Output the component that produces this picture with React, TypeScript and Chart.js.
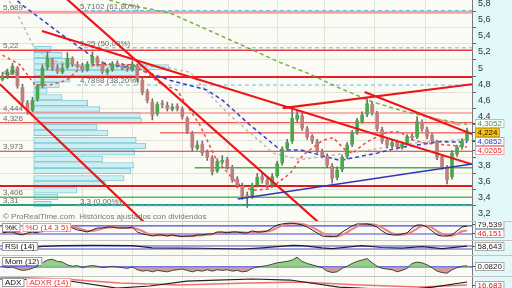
import React, { useEffect, useRef } from "react";
import { Chart, registerables } from "chart.js";

Chart.register(...registerables);

// ---------------- layout / style constants ----------------
const FONT = "'Liberation Sans', Arial, sans-serif";
const W = 512, H = 288, AXIS_W = 40, PLOT_W = W - AXIS_W, MAIN_H = 222;
const X_MIN = -0.5, X_MAX = 94;
const PRICE_MIN = 3.1, PRICE_MAX = 5.84;
const GRID = "#e3e3da";
const BG = "#fbfbf6";
const AXIS_BG = "#e2f8f9";
const UP = "#49a84a";
const DOWN = "#c27f7a";

// ---------------- data ----------------
const opens = [4.86,4.90,4.94,5.00,4.76,4.57,4.48,4.62,4.78,5.01,
  5.10,5.01,4.95,5.01,5.12,5.04,5.03,4.98,5.06,5.13,
  5.05,4.95,4.98,5.06,5.03,5.01,4.98,5.03,4.85,4.71,
  4.58,4.44,4.56,4.54,4.49,4.53,4.49,4.38,4.20,4.01,
  4.06,3.96,3.89,3.73,3.84,3.87,3.77,3.63,3.54,3.43,
  3.41,3.56,3.66,3.61,3.56,3.67,3.83,4.01,4.10,4.37,
  4.41,4.25,4.16,4.09,3.97,3.91,3.79,3.65,3.75,3.91,
  4.06,4.21,4.34,4.43,4.55,4.44,4.24,4.11,4.04,4.09,
  4.02,4.07,4.16,4.15,4.33,4.24,4.17,4.09,3.91,3.77,
  3.66,3.94,4.03,4.11];
const highs = [4.95,4.99,5.06,5.02,4.80,4.60,4.64,4.80,5.04,5.20,
  5.12,5.04,5.05,5.19,5.14,5.08,5.06,5.08,5.20,5.15,
  5.08,5.00,5.08,5.09,5.06,5.04,5.09,5.05,4.88,4.74,
  4.62,4.58,4.60,4.58,4.56,4.56,4.52,4.40,4.22,4.10,
  4.10,3.99,3.92,3.88,3.92,3.90,3.80,3.66,3.58,3.47,
  3.58,3.70,3.70,3.64,3.70,3.85,4.03,4.12,4.50,4.47,
  4.44,4.28,4.18,4.12,4.00,3.94,3.82,3.78,3.93,4.08,
  4.23,4.38,4.46,4.62,4.58,4.47,4.27,4.14,4.12,4.11,
  4.09,4.18,4.19,4.40,4.36,4.27,4.19,4.11,3.93,3.80,
  3.98,4.05,4.13,4.26];
const lows = [4.84,4.87,4.92,4.75,4.55,4.43,4.46,4.59,4.76,4.98,
  4.97,4.93,4.93,4.99,5.02,5.00,4.95,4.96,5.04,5.03,
  4.93,4.92,4.96,5.01,4.98,4.96,4.96,4.83,4.67,4.57,
  4.36,4.41,4.51,4.47,4.47,4.47,4.37,4.19,3.98,3.99,
  3.92,3.86,3.68,3.71,3.81,3.75,3.59,3.52,3.38,3.28,
  3.39,3.53,3.58,3.52,3.53,3.65,3.80,3.98,4.07,4.34,
  4.23,4.12,4.07,3.95,3.89,3.77,3.58,3.62,3.72,3.88,
  4.03,4.18,4.32,4.40,4.42,4.22,4.07,4.01,4.01,4.00,
  4.00,4.05,4.11,4.13,4.22,4.13,4.07,3.87,3.75,3.57,
  3.63,3.91,4.00,4.09];
const closes = [4.90,4.95,5.02,4.78,4.58,4.47,4.60,4.78,5.00,5.12,
  5.00,4.96,5.00,5.12,5.05,5.02,4.98,5.05,5.14,5.06,
  4.96,4.97,5.05,5.04,5.00,4.99,5.05,4.86,4.70,4.60,
  4.42,4.55,4.55,4.50,4.52,4.50,4.40,4.22,4.02,4.05,
  3.95,3.90,3.72,3.85,3.86,3.78,3.62,3.55,3.42,3.40,
  3.55,3.65,3.62,3.55,3.66,3.82,4.00,4.08,4.38,4.42,
  4.26,4.15,4.10,3.98,3.92,3.80,3.64,3.74,3.90,4.05,
  4.20,4.35,4.42,4.56,4.45,4.25,4.10,4.05,4.08,4.03,
  4.06,4.15,4.14,4.34,4.25,4.16,4.10,3.90,3.78,3.62,
  3.95,4.02,4.10,4.224];

// month separators (candle index)
const gridIdx = [16, 26, 36, 45.3, 55, 64.5, 74.5, 84.7];

// moving averages (candle index, price)
const ma200Idx = [20, 23.5, 33.5, 45.5, 55.5, 61, 67.6, 74.2, 79.6, 86.2, 93];
const ma200 = [5.87, 5.80, 5.68, 5.35, 5.07, 4.94, 4.75, 4.58, 4.48, 4.38, 4.3052];
const ma100Idx = [0, 2.5, 4.1, 6.1, 9.5, 15.5, 23.5, 31.5, 37.5, 41.5, 45.5, 54.2, 59.6, 65.6, 73.6, 81.6, 93];
const ma100 = [5.95, 5.72, 5.53, 5.28, 5.10, 5.02, 5.02, 5.02, 4.95, 4.67, 4.42, 3.95, 3.87, 3.92, 3.99, 4.07, 4.12];
const ma50Idx = [1, 3.5, 11.5, 16.9, 19.5, 27.5, 33.5, 40.9, 44.1, 49.5, 55.6, 59.6, 67.6, 75, 79.6, 87.6, 93];
const ma50 = [5.95, 5.80, 5.43, 5.19, 5.07, 4.98, 4.85, 4.73, 4.60, 4.30, 3.99, 3.99, 3.86, 3.95, 4.02, 4.09, 4.0852];
const ma20Idx = [0, 3.5, 6.5, 9.5, 12.9, 15.5, 18.5, 26.1, 28.9, 31.5, 34.9, 39.5, 42.9, 46.9, 50.1, 53.5, 57.6, 60.2, 64.2, 66.2, 68.6, 70, 73, 77, 79.6, 82.2, 85, 89, 93];
const ma20 = [5.16, 5.04, 4.79, 4.79, 4.85, 5.0, 5.04, 5.04, 4.94, 4.81, 4.73, 4.30, 3.86, 3.58, 3.49, 3.51, 3.70, 3.93, 4.11, 4.14, 3.99, 3.95, 4.09, 4.21, 4.21, 4.11, 4.07, 4.05, 4.0265];

// horizontal support / resistance levels
const hlineVals = [5.689, 5.22, 4.89, 4.444, 4.326, 4.2, 3.973, 3.543, 3.77, 3.406, 3.31];
const hlineFrom = [X_MIN, X_MIN, X_MIN, X_MIN, X_MIN, 31.5, X_MIN, X_MIN, 38.5, X_MIN, X_MIN];
const leftLabelVals = [5.689, 5.22, 4.89, 4.444, 4.326, 3.973, 3.406, 3.31];
const leftLabelText = ["5,689", "5,22", "4,89", "4,444", "4,326", "3,973", "3,406", "3,31"];

// Fibonacci retracement
const FIB_FROM = 14.9;
const fibVals = [5.7102, 5.25, 4.7898, 3.3];
const fibLabels = ["5,7102 (61,80%)", "5,25 (50,00%)", "4,7898 (38,20%)", "3,3 (0,00%)"];

// trend lines: [x0, y0, x1, y1] in (candle index, price)
const trendRed = [
  [-0.5, 4.80, 30, 3.0],
  [11.5, 5.927, 65.5, 2.974],
  [7.9, 5.457, 94, 3.812],
  [72.5, 4.704, 94, 4.185],
  [56.1, 4.506, 94, 4.80],
];
const trendThin = [82, 4.457, 91.6, 4.296];
const trendBlue = [47.1, 3.383, 94, 3.815];

// volume by price
const vpPrice = [5.235, 5.16, 5.086, 5.01, 4.94, 4.86, 4.79, 4.72, 4.64, 4.57, 4.49, 4.42, 4.35, 4.27, 4.20, 4.11, 4.04, 3.96, 3.88, 3.80, 3.73, 3.64, 3.57, 3.49, 3.41, 3.32];
const vpVolume = [13, 21, 29, 100, 76, 27, 19, 10, 21, 40, 49, 79, 80, 47, 55, 76, 83, 75, 51, 74, 72, 67, 53, 32, 18, 13];

// stochastic
const stochK = [28,35,35,20,13,28,35,28,57,72,
  72,72,80,80,65,50,43,35,50,65,
  65,72,72,65,65,65,72,35,20,13,
  5,13,13,5,13,5,0,5,5,13,
  13,20,20,35,35,28,35,35,28,28,
  43,35,35,43,65,87,95,100,100,95,
  87,72,50,28,5,0,0,5,35,57,
  80,95,95,95,87,72,43,20,13,13,
  20,28,65,87,87,72,43,13,5,5,
  13,43,72,79.539];
const stochD = [30,32,34,30,22,20,25,31,40,52,
  67,72,75,77,75,65,53,43,42,50,
  60,67,70,70,67,65,67,57,42,23,
  13,10,10,10,10,8,6,3,3,8,
  10,15,18,25,30,33,33,33,32,30,
  33,35,38,38,48,65,82,94,98,98,
  94,85,70,50,28,11,3,2,13,32,
  57,77,90,95,92,85,67,45,25,15,
  15,20,38,60,80,82,67,42,20,8,
  7,20,40,46.151];

// RSI (candle index, value)
const rsiIdx = [0, 4, 8, 12, 18, 26, 30, 40, 48, 52, 58, 60, 64, 66, 72, 76, 80, 84, 88, 93];
const rsi = [48, 42, 58, 62, 64, 62, 48, 45, 40, 48, 64, 62, 47, 42, 62, 50, 46, 56, 42, 58.643];

// momentum
const mom = [0.05,-0.05,0.0,-0.15,-0.25,-0.2,-0.1,0.05,0.3,0.5,
  0.55,0.4,0.35,0.15,0.05,0.1,-0.05,0.05,0.1,0.05,
  -0.05,0.0,0.05,0.0,-0.05,-0.1,0.0,-0.2,-0.3,-0.25,
  -0.35,-0.25,-0.3,-0.35,-0.25,-0.2,-0.15,-0.25,-0.35,-0.25,
  -0.3,-0.2,-0.3,-0.2,-0.25,-0.2,-0.3,-0.25,-0.35,-0.3,
  -0.1,0.0,0.05,0.1,0.2,0.3,0.35,0.4,0.5,0.7,
  0.4,0.25,0.15,0.05,-0.05,-0.3,-0.4,-0.35,-0.1,0.05,
  0.25,0.4,0.5,0.6,0.3,0.05,-0.1,-0.15,-0.2,-0.35,
  -0.25,-0.1,0.25,0.35,0.3,0.15,-0.05,-0.3,-0.4,-0.45,
  -0.2,-0.05,0.05,0.082];

// ADX / ADXR (candle index, value)
const adxIdx = [-0.5, 12.1, 22.9, 29.5, 36.9, 42.9, 50.1, 57.6, 67.4, 79.6, 86.2, 93];
const adx = [32.2, 29.6, 8.9, 14.1, 27, 29.6, 32.2, 29.6, 11.5, 3.7, 11.5, 24.5];
const adxrIdx = [-0.5, 12.1, 23.5, 35.5, 49.5, 59.6, 71.6, 83.6, 93];
const adxr = [37.4, 32.2, 21.9, 16.7, 21.9, 24.5, 16.7, 11.5, 16.683];

// ---------------- helpers ----------------
const pairs = (xs: number[], ys: number[]) => xs.map((x, i) => ({ x, y: ys[i] }));
const seg = (a: number[]) => [{ x: a[0], y: a[1] }, { x: a[2], y: a[3] }];
const lineDs = (data: any[], color: string, width: number, dash: number[], order: number, extra: any = {}) => ({
  type: "line", data, borderColor: color, borderWidth: width, borderDash: dash,
  pointRadius: 0, tension: 0, fill: false, order, ...extra,
});
const comma = (v: number, d: number) => v.toFixed(d).replace(".", ",");

const xScale = () => ({
  type: "linear", min: X_MIN, max: X_MAX, offset: false,
  grid: { color: GRID, drawTicks: false, offset: false },
  border: { display: false },
  ticks: { display: false },
  afterBuildTicks: (s: any) => { s.ticks = gridIdx.map((v) => ({ value: v })); },
});

function drawTags(ctx: CanvasRenderingContext2D, yScale: any, x0: number, tags: any[]) {
  const TH = 9;
  const items = tags.map((t) => ({ ...t, py: yScale.getPixelForValue(t.value) }));
  items.sort((a, b) => a.py - b.py);
  for (let k = 0; k < 6; k++) {
    for (let i = 1; i < items.length; i++) {
      const gap = items[i].py - items[i - 1].py;
      if (gap < TH) { const d = (TH - gap) / 2; items[i - 1].py -= d; items[i].py += d; }
    }
  }
  ctx.font = `8px ${FONT}`;
  ctx.textBaseline = "middle";
  ctx.textAlign = "left";
  items.forEach((t) => {
    const w = ctx.measureText(t.text).width + 5;
    const y = Math.round(t.py);
    ctx.strokeStyle = "#555"; ctx.lineWidth = 1;
    ctx.beginPath(); ctx.moveTo(x0, y + 0.5); ctx.lineTo(x0 + 3, y + 0.5); ctx.stroke();
    ctx.fillStyle = t.bg || "#ffffff";
    ctx.fillRect(x0 + 3, y - 4, w, 9);
    ctx.strokeStyle = t.border || "#aaaaaa";
    ctx.strokeRect(x0 + 3.5, y - 3.5, w - 1, 8);
    ctx.fillStyle = t.color;
    ctx.fillText(t.text, x0 + 5.5, y + 1);
  });
}

function drawLabelBoxes(ctx: CanvasRenderingContext2D, x: number, y: number, labels: any[]) {
  ctx.font = `8px ${FONT}`;
  ctx.textBaseline = "middle";
  ctx.textAlign = "left";
  let cx = x;
  labels.forEach((l) => {
    const w = ctx.measureText(l.text).width + 6;
    ctx.fillStyle = "#ffffff";
    ctx.fillRect(cx, y, w, 9);
    ctx.strokeStyle = l.border; ctx.lineWidth = 1;
    ctx.strokeRect(cx + 0.5, y + 0.5, w - 1, 8);
    ctx.fillStyle = l.color;
    ctx.fillText(l.text, cx + 3, y + 5);
    cx += w + 2;
  });
}

// ---------------- main price chart ----------------
const hlineStyle = [
  { c: "#f3a3a3", w: 3 }, { c: "#f03a3a", w: 1.5 }, { c: "#ee1c1c", w: 2 }, { c: "#f29a9a", w: 1.5 },
  { c: "#ee5a5a", w: 1.2 }, { c: "#e83030", w: 1 }, { c: "#e83030", w: 1 }, { c: "#e81818", w: 2 },
  { c: "#4cb04f", w: 1.5 }, { c: "#5cb85c", w: 1.5 }, { c: "#2f9c80", w: 2 },
];

const mainAnnotations = {
  id: "mainAnnotations",
  afterDraw(chart: any) {
    const { ctx, scales, chartArea } = chart;
    const x = scales.x, y = scales.y;
    ctx.save();
    ctx.font = `8px ${FONT}`;
    ctx.textBaseline = "alphabetic";
    ctx.textAlign = "left";
    ctx.fillStyle = "#6a6a6a";
    leftLabelVals.forEach((v, i) => ctx.fillText(leftLabelText[i], 3, y.getPixelForValue(v) - 2));
    const fx = x.getPixelForValue(FIB_FROM) + 3;
    fibVals.forEach((v, i) => ctx.fillText(fibLabels[i], fx, y.getPixelForValue(v) - 2));
    ctx.fillStyle = "#777";
    ctx.fillText("\u00a9 ProRealTime.com  Hist\u00f3ricos ajustados con dividendos", 3, chartArea.bottom - 3);
    drawTags(ctx, y, chartArea.right, [
      { value: ma200[ma200.length - 1], text: comma(ma200[ma200.length - 1], 4), color: "#3f9a3f", border: "#9fd09f" },
      { value: closes[closes.length - 1], text: comma(closes[closes.length - 1], 3), color: "#111", bg: "#f6c21a", border: "#d9a400" },
      { value: ma50[ma50.length - 1], text: comma(ma50[ma50.length - 1], 4), color: "#2b35c8", border: "#a0a8e8" },
      { value: ma20[ma20.length - 1], text: comma(ma20[ma20.length - 1], 4), color: "#e02828", border: "#f0a0a0" },
    ]);
    ctx.restore();
  },
};

function mainConfig(): any {
  const idx = closes.map((_, i) => i);
  const datasets: any[] = [];
  // volume-by-price profile (horizontal bars on its own hidden axis)
  datasets.push({
    type: "bar", indexAxis: "y", xAxisID: "xv", yAxisID: "y",
    data: vpPrice.map((p, i) => ({ x: vpVolume[i], y: p })),
    backgroundColor: "#cbeff3", borderColor: "#86cbd4", borderWidth: 1, borderSkipped: false,
    barThickness: 5.5, grouped: false, order: 90,
  });
  hlineVals.forEach((v, i) =>
    datasets.push(lineDs(seg([hlineFrom[i], v, X_MAX, v]), hlineStyle[i].c, hlineStyle[i].w, [], 60)));
  fibVals.forEach((v) => datasets.push(lineDs(seg([FIB_FROM, v, X_MAX, v]), "#5bbfe9", 1, [4, 3], 55)));
  datasets.push(lineDs(pairs(ma200Idx, ma200), "#78b043", 1.5, [4, 3], 45));
  datasets.push(lineDs(pairs(ma100Idx, ma100), "#b9b9b9", 1.5, [3, 3], 44));
  datasets.push(lineDs(pairs(ma50Idx, ma50), "#3340c8", 1.5, [4, 3], 43));
  datasets.push(lineDs(pairs(ma20Idx, ma20), "#ef4a4a", 1.5, [3, 3], 42));
  datasets.push({
    type: "bar", data: idx.map((i) => ({ x: i, y: [lows[i], highs[i]] })),
    backgroundColor: "#6e6e6e", barThickness: 1, grouped: false, order: 30,
  });
  datasets.push({
    type: "bar", data: idx.map((i) => ({ x: i, y: [opens[i], closes[i]] })),
    backgroundColor: idx.map((i) => (closes[i] >= opens[i] ? UP : DOWN)),
    barThickness: 3, minBarLength: 1, grouped: false, order: 20, borderWidth: 0,
  });
  trendRed.forEach((t) => datasets.push(lineDs(seg(t), "#ee1515", 2.2, [], 10)));
  datasets.push(lineDs(seg(trendThin), "#f08a8a", 1.2, [], 11));
  datasets.push(lineDs(seg(trendBlue), "#3333b8", 1.5, [], 9));
  return {
    type: "bar",
    data: { datasets },
    options: {
      responsive: false, animation: false, devicePixelRatio: 1, events: [],
      layout: { padding: 0 },
      plugins: { legend: { display: false }, tooltip: { enabled: false } },
      scales: {
        x: xScale(),
        xv: { type: "linear", axis: "x", min: 0, max: 300, display: false },
        y: {
          type: "linear", position: "right", min: PRICE_MIN, max: PRICE_MAX, offset: false,
          grid: { color: GRID, tickLength: 4, tickColor: "#666" },
          border: { display: true, color: "#7a7a7a" },
          ticks: {
            stepSize: 0.2, includeBounds: false, color: "#333", padding: 2,
            font: { family: FONT, size: 9 },
            callback: (v: number) => (Math.abs(v - Math.round(v)) < 1e-6 ? String(Math.round(v)) : comma(v, 1)),
          },
          afterFit: (s: any) => { s.width = AXIS_W; s.paddingTop = 0; s.paddingBottom = 0; },
        },
      },
    },
    plugins: [mainAnnotations],
  };
}

// ---------------- indicator panels ----------------
function panelConfig(datasets: any[], min: number, max: number, labels: any[], tags: any[]): any {
  return {
    type: "line",
    data: { datasets },
    options: {
      responsive: false, animation: false, devicePixelRatio: 1, events: [],
      layout: { padding: 0 },
      plugins: { legend: { display: false }, tooltip: { enabled: false } },
      scales: {
        x: xScale(),
        y: {
          type: "linear", position: "right", min, max,
          grid: { display: false },
          border: { display: true, color: "#7a7a7a" },
          ticks: { display: false },
          afterFit: (s: any) => { s.width = AXIS_W; s.paddingTop = 0; s.paddingBottom = 0; },
        },
      },
    },
    plugins: [{
      id: "panelDecor",
      afterDraw(chart: any) {
        const { ctx, chartArea, scales } = chart;
        ctx.save();
        ctx.strokeStyle = "#c4c4c4"; ctx.lineWidth = 1;
        ctx.beginPath(); ctx.moveTo(0, 0.5); ctx.lineTo(W, 0.5); ctx.stroke();
        drawLabelBoxes(ctx, 2, 2, labels);
        drawTags(ctx, scales.y, chartArea.right, tags);
        ctx.restore();
      },
    }],
  };
}

const idxAll = closes.map((_, i) => i);
const levelDs = (v: number) => lineDs(seg([X_MIN, v, X_MAX, v]), "#4a4ad8", 1.2, [], 50);

const stochConfig = () => panelConfig([
  levelDs(80), levelDs(20),
  lineDs(pairs(idxAll, stochD), "#f08080", 2, [], 20),
  lineDs(pairs(idxAll, stochK), "#222222", 1, [], 10),
], -25, 117,
  [{ text: "%K", color: "#111", border: "#999" }, { text: "%D (14 3 5)", color: "#e03030", border: "#f0a0a0" }],
  [{ value: stochK[93], text: comma(stochK[93], 3), color: "#222" }, { value: stochD[93], text: comma(stochD[93], 3), color: "#e02020" }]);

const rsiConfig = () => panelConfig([
  levelDs(60), levelDs(40),
  lineDs(pairs(rsiIdx, rsi), "#222222", 1.2, [], 10),
], 0, 100,
  [{ text: "RSI (14)", color: "#111", border: "#999" }],
  [{ value: rsi[rsi.length - 1], text: comma(rsi[rsi.length - 1], 3), color: "#222" }]);

const momConfig = () => panelConfig([
  levelDs(0),
  lineDs(pairs(idxAll, mom), "#444444", 1, [], 20, {
    fill: { target: "origin", above: "rgba(130,200,120,0.85)", below: "rgba(196,140,140,0.85)" },
  }),
], -0.65, 0.86,
  [{ text: "Mom (12)", color: "#111", border: "#999" }],
  [{ value: mom[93], text: comma(mom[93], 4), color: "#222" }]);

const adxConfig = () => panelConfig([
  lineDs(pairs(adxrIdx, adxr), "#f07070", 1.5, [], 20),
  lineDs(pairs(adxIdx, adx), "#222222", 1.2, [], 10),
], -22, 40,
  [{ text: "ADX", color: "#111", border: "#999" }, { text: "ADXR (14)", color: "#e03030", border: "#f0a0a0" }],
  [{ value: adxr[adxr.length - 1], text: comma(adxr[adxr.length - 1], 3), color: "#e02020" }]);

const PANELS = [
  { key: "stoch", top: 221, height: 19, make: stochConfig },
  { key: "rsi", top: 240, height: 15, make: rsiConfig },
  { key: "mom", top: 255, height: 21, make: momConfig },
  { key: "adx", top: 276, height: 24, make: adxConfig },
];

// ---------------- components ----------------
function ChartCanvas({ top, width, height, make }: { top: number; width: number; height: number; make: () => any }) {
  const ref = useRef<HTMLCanvasElement>(null);
  useEffect(() => {
    const chart = new Chart(ref.current as HTMLCanvasElement, make());
    return () => chart.destroy();
  }, []);
  return (
    <canvas ref={ref} width={width} height={height}
      style={{ position: "absolute", left: 0, top, width, height, display: "block" }} />
  );
}

export default function App() {
  return (
    <div style={{ position: "fixed", left: 0, top: 0, width: W, height: H, overflow: "hidden", background: BG }}>
      <div style={{ position: "absolute", left: PLOT_W, top: 0, width: AXIS_W, height: H, background: AXIS_BG }} />
      <ChartCanvas top={0} width={W} height={MAIN_H} make={mainConfig} />
      {PANELS.map((p) => (
        <ChartCanvas key={p.key} top={p.top} width={W} height={p.height} make={p.make} />
      ))}
    </div>
  );
}
